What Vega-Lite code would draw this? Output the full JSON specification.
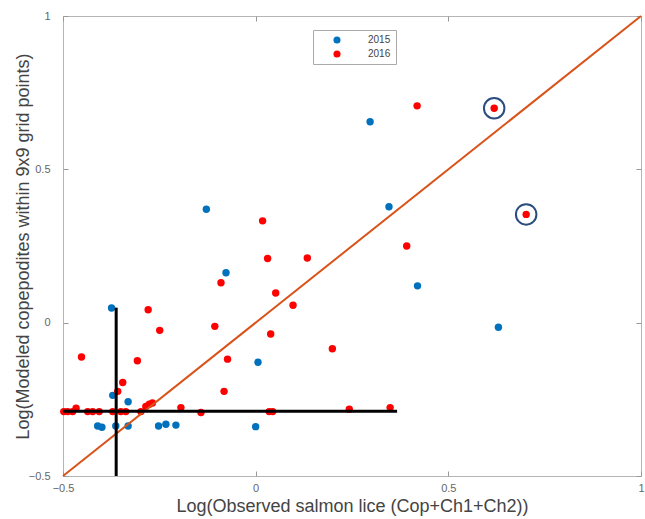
{
  "$schema": "https://vega.github.io/schema/vega-lite/v6.json",
  "width": 578,
  "height": 460,
  "autosize": "none",
  "padding": {"left": 63, "top": 16, "right": 4, "bottom": 43},
  "config": {
    "font": "Liberation Sans",
    "view": {"stroke": "#b5b5b5", "strokeWidth": 1}
  },
  "datasets": {
    "pts": [
      {"x": 0.297, "y": 0.655, "year": "2015"},
      {"x": -0.128, "y": 0.370, "year": "2015"},
      {"x": 0.346, "y": 0.378, "year": "2015"},
      {"x": 0.420, "y": 0.120, "year": "2015"},
      {"x": 0.630, "y": -0.015, "year": "2015"},
      {"x": -0.077, "y": 0.163, "year": "2015"},
      {"x": -0.374, "y": 0.048, "year": "2015"},
      {"x": 0.006, "y": -0.129, "year": "2015"},
      {"x": -0.371, "y": -0.237, "year": "2015"},
      {"x": -0.331, "y": -0.258, "year": "2015"},
      {"x": -0.410, "y": -0.337, "year": "2015"},
      {"x": -0.399, "y": -0.341, "year": "2015"},
      {"x": -0.363, "y": -0.337, "year": "2015"},
      {"x": -0.331, "y": -0.337, "year": "2015"},
      {"x": -0.252, "y": -0.337, "year": "2015"},
      {"x": -0.233, "y": -0.331, "year": "2015"},
      {"x": -0.207, "y": -0.334, "year": "2015"},
      {"x": 0.000, "y": -0.339, "year": "2015"},
      {"x": 0.419, "y": 0.707, "year": "2016"},
      {"x": 0.619, "y": 0.699, "year": "2016"},
      {"x": 0.702, "y": 0.353, "year": "2016"},
      {"x": 0.018, "y": 0.332, "year": "2016"},
      {"x": 0.392, "y": 0.250, "year": "2016"},
      {"x": 0.031, "y": 0.209, "year": "2016"},
      {"x": 0.134, "y": 0.211, "year": "2016"},
      {"x": -0.090, "y": 0.130, "year": "2016"},
      {"x": 0.052, "y": 0.097, "year": "2016"},
      {"x": 0.097, "y": 0.057, "year": "2016"},
      {"x": -0.279, "y": 0.042, "year": "2016"},
      {"x": -0.249, "y": -0.025, "year": "2016"},
      {"x": -0.106, "y": -0.012, "year": "2016"},
      {"x": 0.039, "y": -0.037, "year": "2016"},
      {"x": 0.199, "y": -0.085, "year": "2016"},
      {"x": -0.452, "y": -0.112, "year": "2016"},
      {"x": -0.307, "y": -0.124, "year": "2016"},
      {"x": -0.073, "y": -0.119, "year": "2016"},
      {"x": -0.345, "y": -0.195, "year": "2016"},
      {"x": -0.358, "y": -0.224, "year": "2016"},
      {"x": -0.082, "y": -0.224, "year": "2016"},
      {"x": -0.498, "y": -0.290, "year": "2016"},
      {"x": -0.488, "y": -0.290, "year": "2016"},
      {"x": -0.475, "y": -0.290, "year": "2016"},
      {"x": -0.466, "y": -0.279, "year": "2016"},
      {"x": -0.436, "y": -0.290, "year": "2016"},
      {"x": -0.423, "y": -0.290, "year": "2016"},
      {"x": -0.406, "y": -0.290, "year": "2016"},
      {"x": -0.371, "y": -0.290, "year": "2016"},
      {"x": -0.350, "y": -0.290, "year": "2016"},
      {"x": -0.337, "y": -0.290, "year": "2016"},
      {"x": -0.298, "y": -0.290, "year": "2016"},
      {"x": -0.285, "y": -0.273, "year": "2016"},
      {"x": -0.276, "y": -0.266, "year": "2016"},
      {"x": -0.268, "y": -0.262, "year": "2016"},
      {"x": -0.194, "y": -0.277, "year": "2016"},
      {"x": -0.142, "y": -0.293, "year": "2016"},
      {"x": 0.035, "y": -0.290, "year": "2016"},
      {"x": 0.044, "y": -0.290, "year": "2016"},
      {"x": 0.243, "y": -0.282, "year": "2016"},
      {"x": 0.349, "y": -0.277, "year": "2016"}
    ],
    "diag": [{"x": -0.5, "y": -0.5}, {"x": 1, "y": 1}],
    "vline": [{"x": -0.362, "y": -0.5, "y2": 0.049}],
    "hline": [{"x": -0.5, "x2": 0.367, "y": -0.289}],
    "hl": [{"x": 0.619, "y": 0.699}, {"x": 0.702, "y": 0.353}]
  },
  "resolve": {"axis": {"x": "independent", "y": "independent"}},
  "layer": [
    {
      "data": {"name": "pts"},
      "mark": {"type": "point", "shape": "circle", "filled": true, "size": 55, "opacity": 1},
      "encoding": {
        "x": {
          "field": "x", "type": "quantitative",
          "scale": {"domain": [-0.5, 1], "nice": false, "zero": false},
          "axis": {
            "orient": "bottom", "values": [-0.5, 0, 0.5, 1], "format": "~g", "domain": false,
            "grid": false, "tickSize": -5, "tickColor": "#999", "labelPadding": 11,
            "labelFlush": false, "labelOverlap": false, "labelFontSize": 11, "labelColor": "#666",
            "title": "Log(Observed salmon lice (Cop+Ch1+Ch2))", "titleFontSize": 18,
            "titleFontWeight": "normal", "titleColor": "#444", "titlePadding": 4
          }
        },
        "y": {
          "field": "y", "type": "quantitative",
          "scale": {"domain": [-0.5, 1], "nice": false, "zero": false},
          "axis": {
            "orient": "left", "values": [-0.5, 0, 0.5, 1], "format": "~g", "domain": false,
            "grid": false, "tickSize": -5, "tickColor": "#999", "labelPadding": 18,
            "labelFlush": false, "labelOverlap": false, "labelFontSize": 11, "labelColor": "#666",
            "title": "Log(Modeled copepodites within 9x9 grid points)", "titleFontSize": 18,
            "titleFontWeight": "normal", "titleColor": "#444", "titlePadding": -4
          }
        },
        "color": {
          "field": "year", "type": "nominal",
          "scale": {"domain": ["2015", "2016"], "range": ["#0072BD", "#FF0000"]},
          "legend": {
            "title": null, "orient": "none", "legendX": 250, "legendY": 14,
            "strokeColor": "#aaa", "fillColor": "white", "padding": 5,
            "symbolType": "circle", "symbolSize": 50, "symbolOffset": 14,
            "labelFontSize": 10, "labelColor": "#444", "labelOffset": 26,
            "rowPadding": 4, "labelLimit": 60
          }
        }
      }
    },
    {
      "data": {"name": "diag"},
      "mark": {"type": "line", "color": "#D95319", "strokeWidth": 2},
      "encoding": {
        "x": {
          "field": "x", "type": "quantitative",
          "axis": {"orient": "top", "values": [-0.5, 0, 0.5, 1], "labels": false, "title": null,
                   "domain": false, "grid": false, "tickSize": -5, "tickColor": "#999"}
        },
        "y": {
          "field": "y", "type": "quantitative",
          "axis": {"orient": "right", "values": [-0.5, 0, 0.5, 1], "labels": false, "title": null,
                   "domain": false, "grid": false, "tickSize": -5, "tickColor": "#999"}
        }
      }
    },
    {
      "data": {"name": "hline"},
      "mark": {"type": "rule", "color": "black", "strokeWidth": 3},
      "encoding": {
        "x": {"field": "x", "type": "quantitative", "axis": null},
        "x2": {"field": "x2"},
        "y": {"field": "y", "type": "quantitative", "axis": null}
      }
    },
    {
      "data": {"name": "vline"},
      "mark": {"type": "rule", "color": "black", "strokeWidth": 3},
      "encoding": {
        "x": {"field": "x", "type": "quantitative", "axis": null},
        "y": {"field": "y", "type": "quantitative", "axis": null},
        "y2": {"field": "y2"}
      }
    },
    {
      "data": {"name": "hl"},
      "mark": {"type": "point", "shape": "circle", "filled": false, "size": 420, "stroke": "#2B4C7E", "strokeWidth": 2, "opacity": 1},
      "encoding": {
        "x": {"field": "x", "type": "quantitative", "axis": null},
        "y": {"field": "y", "type": "quantitative", "axis": null}
      }
    }
  ]
}
